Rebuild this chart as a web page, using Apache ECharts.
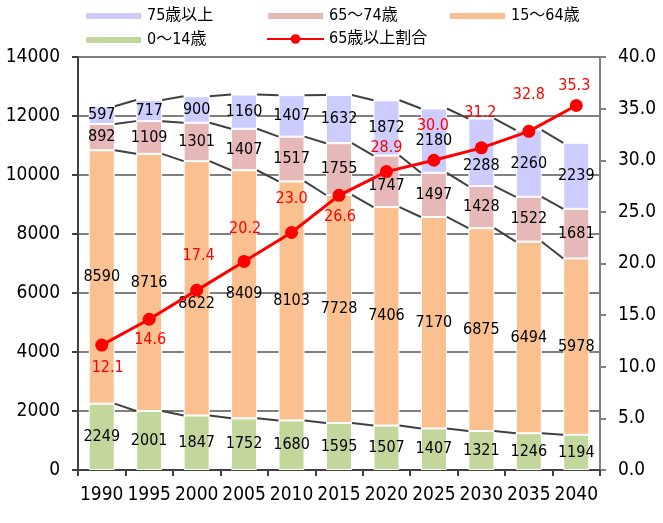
<!DOCTYPE html>
<html>
<head>
<meta charset="utf-8">
<script src="https://cdn.jsdelivr.net/npm/echarts@6/dist/echarts.min.js"></script>
<style>html,body{margin:0;padding:0;background:#fff}#c{width:663px;height:523px}</style>
</head>
<body>
<div id="c"></div>
<script>
const years = ['1990','1995','2000','2005','2010','2015','2020','2025','2030','2035','2040'];
const age0to14 = [2249, 2001, 1847, 1752, 1680, 1595, 1507, 1407, 1321, 1246, 1194];
const age15to64 = [8590, 8716, 8622, 8409, 8103, 7728, 7406, 7170, 6875, 6494, 5978];
const age65to74 = [892, 1109, 1301, 1407, 1517, 1755, 1747, 1497, 1428, 1522, 1681];
const age75plus = [597, 717, 900, 1160, 1407, 1632, 1872, 2180, 2288, 2260, 2239];
const ratio65plus = [12.1, 14.6, 17.4, 20.2, 23.0, 26.6, 28.9, 30.0, 31.2, 32.8, 35.3];

const FONT = "'DejaVu Sans Condensed', 'Liberation Sans', 'Noto Sans CJK JP', sans-serif";
const BAR_W = 26;

// label nudges (style only)
const barLabelNudge = { 1: {2: [0, 16]}, 2: {6: [0, 5]}, 3: {8: [0, 13]} };
const ratioLabelOffset = [[6,23],[1,21],[2,-35],[1,-33],[0,-34],[1,21],[0,-24],[-1,-34],[-1,-35],[0,-36],[-2,-20]];

const barSeriesDefs = [
  {name: '0～14歳', data: age0to14, color: '#C3D69B'},
  {name: '15～64歳', data: age15to64, color: '#FAC090'},
  {name: '65～74歳', data: age65to74, color: '#E6B9B8'},
  {name: '75歳以上', data: age75plus, color: '#CCCCFF'}
];

// cumulative levels for connector lines
const levels = [];
let run = years.map(() => 0);
barSeriesDefs.forEach(s => { run = run.map((v, i) => v + s.data[i]); levels.push(run.slice()); });
const connectorData = [];
levels.forEach(lv => { for (let i = 0; i < years.length - 1; i++) connectorData.push([i, lv[i], lv[i + 1]]); });

const barSeries = barSeriesDefs.map((s, k) => ({
  name: s.name, type: 'bar', stack: 'pop', barWidth: BAR_W,
  itemStyle: {color: s.color, borderColor: '#fff', borderWidth: 1},
  label: {show: true, position: 'inside', color: '#000', fontSize: 16, fontFamily: FONT},
  data: s.data.map((v, i) => {
    const n = barLabelNudge[k] && barLabelNudge[k][i];
    return n ? {value: v, label: {offset: n}} : v;
  }),
  z: 2
}));

const legendBase = {padding: 0, icon: 'rect', itemWidth: 57, itemHeight: 8,
  textStyle: {fontSize: 16, color: '#000', fontFamily: FONT}, selectedMode: false};

const chart = echarts.init(document.getElementById('c'), null, {renderer: 'canvas'});
chart.setOption({
  animation: false,
  backgroundColor: '#fff',
  textStyle: {fontFamily: FONT},
  legend: [
    Object.assign({}, legendBase, {data: ['75歳以上'], left: 84, top: 8}),
    Object.assign({}, legendBase, {data: ['65～74歳'], left: 266, top: 8}),
    Object.assign({}, legendBase, {data: ['15～64歳'], left: 448, top: 8}),
    Object.assign({}, legendBase, {data: ['0～14歳'], left: 84, top: 32}),
    Object.assign({}, legendBase, {data: ['65歳以上割合'], left: 266, top: 31, icon: null, itemHeight: 12})
  ],
  grid: {left: 78, right: 63, top: 57, bottom: 53, containLabel: false},
  xAxis: {
    type: 'category', data: years, boundaryGap: true,
    axisLine: {lineStyle: {color: '#404040', width: 2}},
    axisTick: {show: true, length: 6, lineStyle: {color: '#404040', width: 2}},
    axisLabel: {color: '#000', fontSize: 19, fontFamily: FONT, margin: 16, interval: 0}
  },
  yAxis: [
    {
      type: 'value', min: 0, max: 14000, interval: 2000,
      axisLine: {show: true, lineStyle: {color: '#404040', width: 2}},
      axisTick: {show: true, length: 6, lineStyle: {color: '#404040', width: 2}},
      axisLabel: {color: '#000', fontSize: 19, fontFamily: FONT, margin: 18, formatter: v => String(v)},
      splitLine: {show: true, lineStyle: {color: '#808080', width: 2}}
    },
    {
      type: 'value', min: 0, max: 40, interval: 5, position: 'right',
      axisLine: {show: true, lineStyle: {color: '#808080', width: 2}},
      axisTick: {show: true, length: 6, lineStyle: {color: '#808080', width: 2}},
      axisLabel: {color: '#000', fontSize: 19, fontFamily: FONT, margin: 18, formatter: v => v.toFixed(1)},
      splitLine: {show: false}
    }
  ],
  series: barSeries.concat([
    {
      type: 'custom', name: 'connectors', silent: true, z: 3,
      encode: {x: 0, y: [1, 2]},
      data: connectorData,
      renderItem: function (params, api) {
        const i = api.value(0);
        const p1 = api.coord([i, api.value(1)]);
        const p2 = api.coord([i + 1, api.value(2)]);
        return {type: 'line',
          shape: {x1: p1[0] + BAR_W / 2, y1: p1[1], x2: p2[0] - BAR_W / 2, y2: p2[1]},
          style: {stroke: '#404040', lineWidth: 2}};
      }
    },
    {
      name: '65歳以上割合', type: 'line', yAxisIndex: 1, z: 5,
      symbol: 'circle', symbolSize: 13,
      lineStyle: {color: '#FF0000', width: 3},
      itemStyle: {color: '#FF0000'},
      label: {show: true, position: 'inside', color: '#FF0000', fontSize: 16, fontFamily: FONT,
        formatter: p => p.value.toFixed(1)},
      data: ratio65plus.map((v, i) => ({value: v, label: {offset: ratioLabelOffset[i]}}))
    }
  ])
});
</script>
</body>
</html>
